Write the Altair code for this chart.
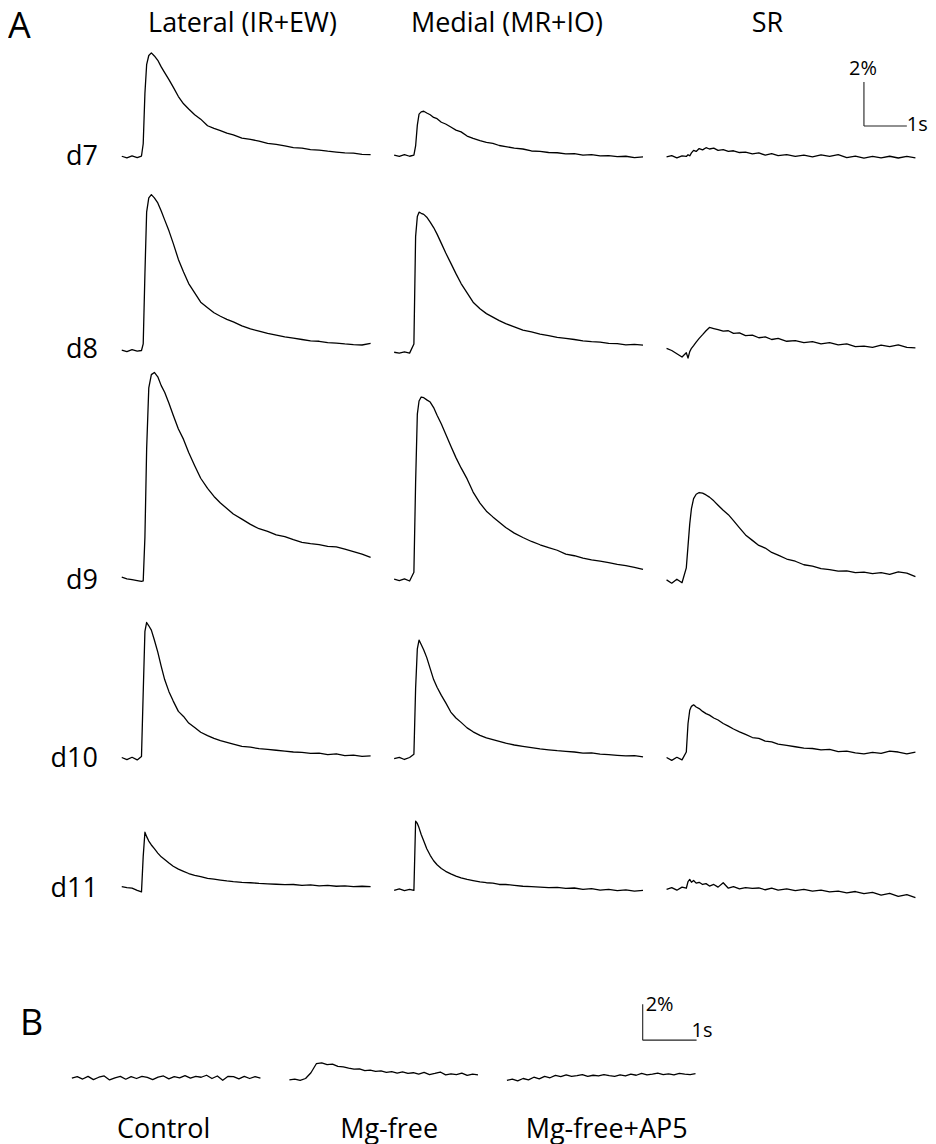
import altair as alt
import pandas as pd

# ---------------- data ----------------
# Panel A: common time grid (s from the start of each sweep)
TIME_A = [0.00, 0.12, 0.24, 0.36, 0.46, 0.50, 0.54, 0.58, 0.63, 0.69, 0.76, 0.84, 0.92, 1.00,
          1.10, 1.20, 1.32, 1.44, 1.56, 1.70, 1.84, 2.00, 2.15, 2.30, 2.45, 2.60, 2.80, 3.00,
          3.20, 3.40, 3.60, 3.80, 4.00, 4.20, 4.40, 4.60, 4.80, 5.00, 5.20, 5.40, 5.60, 5.80]

DAYS = ["d7", "d8", "d9", "d10", "d11"]
COLUMNS = ["Lateral (IR+EW)", "Medial (MR+IO)", "SR"]

LAT_D7 = [0.03, -0.04, 0.05, -0.03, 0.04, 0.6, 2.9, 4.2, 4.62, 4.74, 4.60, 4.40, 4.10, 3.84,
          3.52, 3.18, 2.75, 2.42, 2.18, 1.92, 1.72, 1.42, 1.30, 1.20, 1.08, 1.00, 0.86, 0.80,
          0.72, 0.62, 0.57, 0.50, 0.42, 0.40, 0.33, 0.31, 0.26, 0.22, 0.18, 0.17, 0.12, 0.10]
MED_D7 = [0.08, 0.02, 0.10, 0.03, 0.08, 0.5, 1.45, 1.95, 2.05, 2.08, 2.0, 1.92, 1.80, 1.74,
          1.58, 1.50, 1.36, 1.22, 1.14, 0.95, 0.84, 0.74, 0.66, 0.62, 0.52, 0.47, 0.40, 0.36,
          0.27, 0.25, 0.20, 0.19, 0.14, 0.15, 0.08, 0.10, 0.05, 0.06, 0.01, 0.03, -0.03, 0.0]
SR_D7 = [0.0, 0.06, -0.04, 0.05, 0.02, 0.10, 0.05, 0.18, 0.30, 0.25, 0.38, 0.32, 0.42, 0.36,
         0.40, 0.30, 0.33, 0.25, 0.28, 0.20, 0.22, 0.14, 0.18, 0.08, 0.15, 0.06, 0.10, 0.02,
         0.08, 0.0, 0.09, 0.02, 0.10, -0.03, 0.04, -0.06, 0.02, -0.04, 0.03, -0.05, 0.02, -0.04]

LAT_D8 = [0.02, -0.05, 0.04, -0.03, 0.0, 0.3, 3.5, 6.3, 6.95, 7.1, 6.95, 6.72, 6.35, 5.95,
          5.45, 4.88, 4.15, 3.58, 3.05, 2.62, 2.2, 1.95, 1.72, 1.56, 1.42, 1.30, 1.12, 0.98,
          0.88, 0.78, 0.70, 0.62, 0.56, 0.50, 0.44, 0.42, 0.36, 0.34, 0.30, 0.27, 0.25, 0.32]
MED_D8 = [-0.08, -0.12, -0.06, -0.12, 0.3, 5.2, 6.1, 6.3, 6.25, 6.2, 6.07, 5.85, 5.6, 5.30,
          4.88, 4.45, 3.98, 3.5, 3.05, 2.62, 2.2, 1.9, 1.68, 1.52, 1.36, 1.22, 1.08, 0.93,
          0.85, 0.75, 0.68, 0.60, 0.55, 0.50, 0.44, 0.40, 0.38, 0.32, 0.31, 0.26, 0.28, 0.24]
SR_D8 = [0.1, 0.0, -0.15, -0.3, -0.1, -0.35, -0.05, 0.1, 0.22, 0.38, 0.55, 0.72, 0.90, 1.05,
         1.0, 0.95, 0.88, 0.90, 0.78, 0.80, 0.68, 0.70, 0.58, 0.62, 0.50, 0.55, 0.42, 0.45,
         0.36, 0.40, 0.30, 0.36, 0.26, 0.30, 0.18, 0.20, 0.14, 0.24, 0.18, 0.26, 0.14, 0.12]

LAT_D9 = [0.18, 0.10, 0.06, 0.02, -0.02, 0.0, 2.0, 6.0, 8.8, 9.4, 9.5, 9.3, 8.9, 8.6,
          8.1, 7.55, 6.92, 6.45, 5.85, 5.25, 4.68, 4.22, 3.85, 3.55, 3.30, 3.05, 2.82, 2.58,
          2.38, 2.26, 2.10, 2.02, 1.88, 1.76, 1.70, 1.66, 1.58, 1.55, 1.45, 1.34, 1.22, 1.08]
MED_D9 = [0.08, 0.02, 0.1, 0.0, 0.4, 4.5, 7.6, 8.2, 8.38, 8.35, 8.25, 8.15, 7.9, 7.55,
          7.15, 6.7, 6.15, 5.62, 5.15, 4.65, 4.05, 3.55, 3.18, 2.92, 2.68, 2.44, 2.18, 1.98,
          1.80, 1.65, 1.52, 1.40, 1.22, 1.15, 1.04, 0.96, 0.90, 0.84, 0.76, 0.70, 0.62, 0.53]
SR_D9 = [0.05, -0.1, 0.08, -0.08, 0.6, 1.6, 2.6, 3.3, 3.75, 3.95, 4.03, 4.0, 3.92, 3.82,
         3.65, 3.45, 3.22, 3.02, 2.75, 2.42, 2.10, 1.85, 1.62, 1.50, 1.30, 1.18, 1.00, 0.90,
         0.74, 0.68, 0.56, 0.52, 0.45, 0.46, 0.38, 0.40, 0.34, 0.38, 0.30, 0.42, 0.36, 0.20]

LAT_D10 = [0.05, -0.05, 0.06, -0.06, 0.1, 3.0, 5.8, 6.2, 6.05, 5.85, 5.4, 4.85, 4.2, 3.6,
           3.05, 2.62, 2.15, 1.92, 1.62, 1.42, 1.20, 1.05, 0.92, 0.82, 0.74, 0.66, 0.56, 0.52,
           0.45, 0.42, 0.38, 0.34, 0.30, 0.28, 0.24, 0.25, 0.18, 0.22, 0.14, 0.16, 0.10, 0.12]
MED_D10 = [0.0, 0.06, -0.04, 0.05, 0.2, 3.2, 5.0, 5.4, 5.2, 4.95, 4.6, 4.1, 3.6, 3.25,
           2.88, 2.55, 2.12, 1.85, 1.65, 1.40, 1.22, 1.06, 0.94, 0.86, 0.78, 0.70, 0.62, 0.56,
           0.50, 0.44, 0.40, 0.36, 0.33, 0.30, 0.25, 0.26, 0.20, 0.18, 0.15, 0.12, 0.14, 0.08]
SR_D10 = [0.05, -0.08, 0.06, -0.06, 0.3, 1.6, 2.2, 2.38, 2.45, 2.35, 2.28, 2.15, 2.05, 1.98,
          1.85, 1.76, 1.60, 1.48, 1.35, 1.22, 1.10, 0.96, 0.92, 0.80, 0.76, 0.66, 0.60, 0.54,
          0.48, 0.46, 0.40, 0.42, 0.32, 0.34, 0.26, 0.22, 0.28, 0.24, 0.34, 0.30, 0.22, 0.30]

LAT_D11 = [0.12, 0.08, 0.05, -0.05, -0.12, 1.5, 2.6, 2.4, 2.2, 2.02, 1.85, 1.65, 1.48, 1.36,
           1.2, 1.05, 0.92, 0.82, 0.72, 0.64, 0.58, 0.5, 0.46, 0.42, 0.38, 0.35, 0.32, 0.30,
           0.27, 0.25, 0.23, 0.21, 0.22, 0.18, 0.2, 0.16, 0.18, 0.14, 0.16, 0.12, 0.14, 0.12]
MED_D11 = [-0.05, 0.02, -0.06, 0.0, -0.05, 3.1, 3.0, 2.8, 2.5, 2.2, 1.85, 1.55, 1.3, 1.12,
           0.95, 0.82, 0.70, 0.60, 0.52, 0.45, 0.40, 0.34, 0.30, 0.28, 0.22, 0.22, 0.18, 0.14,
           0.12, 0.10, 0.08, 0.09, 0.04, 0.06, 0.0, 0.03, -0.04, 0.0, -0.06, -0.03, -0.08, -0.05]
SR_D11 = [0.0, 0.08, -0.04, 0.1, 0.05, 0.35, 0.45, 0.32, 0.40, 0.28, 0.32, 0.22, 0.26, 0.15,
          0.22, 0.10, 0.30, 0.05, 0.12, 0.02, 0.08, 0.04, 0.06, -0.02, 0.05, -0.04, 0.02, -0.06,
          0.0, -0.08, -0.04, -0.12, -0.08, -0.16, -0.10, -0.2, -0.14, -0.26, -0.18, -0.32, -0.24, -0.38]

TRACES_A = [
    [LAT_D7, MED_D7, SR_D7],
    [LAT_D8, MED_D8, SR_D8],
    [LAT_D9, MED_D9, SR_D9],
    [LAT_D10, MED_D10, SR_D10],
    [LAT_D11, MED_D11, SR_D11],
]

# Panel B
TIME_B = [0.0, 0.1, 0.2, 0.3, 0.4, 0.5, 0.6, 0.7, 0.8, 0.9, 1.0, 1.1, 1.2, 1.3, 1.4, 1.5, 1.6, 1.7,
          1.8, 1.9, 2.0, 2.1, 2.2, 2.3, 2.4, 2.5, 2.6, 2.7, 2.8, 2.9, 3.0, 3.1, 3.2, 3.3, 3.4, 3.5]
CONDITIONS_B = ["Control", "Mg-free", "Mg-free+AP5"]
CONTROL = [0.0, 0.08, -0.05, 0.1, -0.08, 0.05, 0.12, -0.1, 0.02, 0.1, -0.06, 0.08, -0.02, 0.1,
           0.04, -0.08, 0.06, 0.12, -0.04, 0.08, 0.02, 0.14, 0.0, 0.1, 0.05, 0.16, -0.02, 0.12,
           -0.12, 0.1, 0.08, -0.04, 0.1, -0.02, 0.08, 0.0]
MG_FREE = [-0.1, -0.05, -0.12, -0.02, 0.3, 0.8, 0.85, 0.75, 0.78, 0.65, 0.62, 0.55, 0.5, 0.52,
           0.42, 0.45, 0.38, 0.4, 0.32, 0.36, 0.28, 0.35, 0.26, 0.3, 0.22, 0.32, 0.2, 0.26,
           0.34, 0.18, 0.24, 0.2, 0.28, 0.15, 0.22, 0.18]
MG_FREE_AP5 = [-0.12, -0.05, -0.15, -0.02, -0.1, 0.05, -0.04, 0.1, 0.02, 0.15, 0.08, 0.18, 0.1,
               0.14, 0.2, 0.1, 0.16, 0.12, 0.2, 0.14, 0.1, 0.18, 0.12, 0.22, 0.16, 0.26, 0.18,
               0.22, 0.28, 0.2, 0.24, 0.18, 0.26, 0.22, 0.2, 0.25]
TRACES_B = [CONTROL, MG_FREE, MG_FREE_AP5]

# scale bars (2 % / 1 s)
BAR_PCT = 2
BAR_SEC = 1

# ---------------- layout / style ----------------
FONT = "Open Sans"
PX_PER_S_A = 43.0
PX_PER_PCT_A = 22.0
PX_PER_S_B = 54.0
PX_PER_PCT_B = 18.0

LEFT_PAD_S = 50 / PX_PER_S_A
X_DOMS_A = [[-LEFT_PAD_S, 6.0], [0.0, 6.0], [0.0, 6.0]]
Y_DOMS_A = [(-0.773, 6.682), (-0.591, 8.045), (-0.682, 9.909), (-1.682, 7.409), (-0.955, 4.273)]
TITLE_X = [171, 113, 101]
ROW_LABEL_X = 26
LEFT_EDGE_X = -64
BAR_A_T0, BAR_A_V0 = 4.6, 1.41

X_DOM_B = [0.0, 200 / PX_PER_S_B]
Y_DOM_B = (-3.7, 4.889)
LABEL_B_X = [92, 100, 100]
LABEL_B_Y = 148
BAR_B_T0, BAR_B_V0 = 2.52, 2.11

LINE_W = 1.3


def xs(xdom):
    return alt.Scale(domain=list(xdom), nice=False, zero=False)


def ys(ydom):
    return alt.Scale(domain=list(ydom), nice=False, zero=False)


def X(field, xdom):
    return alt.X(f"{field}:Q", scale=xs(xdom), axis=None)


def Y(field, ydom):
    return alt.Y(f"{field}:Q", scale=ys(ydom), axis=None)


def one_row():
    return pd.DataFrame({"k": [0]})


def px_text(text, x, y, size, align="left", baseline="alphabetic", opacity=1.0):
    return alt.Chart(one_row()).mark_text(
        text=text, font=FONT, fontSize=size, align=align, baseline=baseline, color="black",
        opacity=opacity
    ).encode(x=alt.value(x), y=alt.value(y))


def scale_bar(t0, v0, xdom, ydom, which):
    df = pd.DataFrame({"t": [t0], "t2": [t0 + BAR_SEC], "v": [v0], "v2": [v0 + BAR_PCT]})
    vert = alt.Chart(df).mark_rule(color="#222", strokeWidth=1.1).encode(
        x=X("t", xdom), y=Y("v", ydom), y2=alt.Y2("v2"))
    horiz = alt.Chart(df).mark_rule(color="#222", strokeWidth=1.1).encode(
        x=X("t", xdom), x2=alt.X2("t2"), y=Y("v", ydom))
    if which == "A":
        pct = alt.Chart(df).mark_text(text="2%", font=FONT, fontSize=20, align="center",
                                      baseline="alphabetic", dx=-1, dy=-7).encode(
            x=X("t", xdom), y=Y("v2", ydom))
        sec = alt.Chart(df).mark_text(text="1s", font=FONT, fontSize=20, align="left",
                                      baseline="middle", dx=0, dy=-1).encode(
            x=X("t2", xdom), y=Y("v", ydom))
    else:
        pct = alt.Chart(df).mark_text(text="2%", font=FONT, fontSize=20, align="left",
                                      baseline="alphabetic", dx=3, dy=7).encode(
            x=X("t", xdom), y=Y("v2", ydom))
        sec = alt.Chart(df).mark_text(text="1s", font=FONT, fontSize=20, align="left",
                                      baseline="alphabetic", dx=-5, dy=-3).encode(
            x=X("t2", xdom), y=Y("v", ydom))
    return [vert, horiz, pct, sec]


def trace(times, vals, xdom, ydom):
    assert len(vals) == len(times)
    df = pd.DataFrame({"t": times, "v": vals})
    return alt.Chart(df).mark_line(color="black", strokeWidth=LINE_W, strokeJoin="round").encode(
        x=X("t", xdom), y=Y("v", ydom))


# ---------------- panel A ----------------
rows = []
for i, day in enumerate(DAYS):
    ydom = Y_DOMS_A[i]
    h = round((ydom[1] - ydom[0]) * PX_PER_PCT_A)
    cells = []
    for j in range(3):
        xdom = X_DOMS_A[j]
        w = round((xdom[1] - xdom[0]) * PX_PER_S_A)
        layers = [trace(TIME_A, TRACES_A[i][j], xdom, ydom)]
        if j == 0:
            lab = alt.Chart(pd.DataFrame({"v": [0.0]})).mark_text(
                text=day, font=FONT, fontSize=27, align="right", baseline="middle", color="black"
            ).encode(x=alt.value(ROW_LABEL_X), y=Y("v", ydom))
            layers.append(lab)
            if i == 0:
                layers.append(px_text("A", LEFT_EDGE_X, 0, 36, align="left", baseline="top"))
            else:
                # invisible anchor so that every row has the same left extent
                layers.append(px_text("A", LEFT_EDGE_X, h / 2, 20, align="left",
                                      baseline="middle", opacity=0))
        if i == 0:
            layers.append(px_text(COLUMNS[j], TITLE_X[j], 14, 27, align="center", baseline="middle"))
            if j == 2:
                layers += scale_bar(BAR_A_T0, BAR_A_V0, xdom, ydom, "A")
        cells.append(alt.layer(*layers).properties(width=w, height=h))
    rows.append(alt.hconcat(*cells, spacing=15, bounds="flush"))

block_a = alt.vconcat(*rows, spacing=0)

# ---------------- panel B ----------------
hb = round((Y_DOM_B[1] - Y_DOM_B[0]) * PX_PER_PCT_B)
wb = round((X_DOM_B[1] - X_DOM_B[0]) * PX_PER_S_B)
cells_b = []
for j, cond in enumerate(CONDITIONS_B):
    layers = [trace(TIME_B, TRACES_B[j], X_DOM_B, Y_DOM_B)]
    layers.append(px_text(cond, LABEL_B_X[j], LABEL_B_Y, 27, align="center", baseline="alphabetic"))
    if j == 0:
        layers.append(px_text("B", -52, 45, 36, align="left", baseline="alphabetic"))
        layers.append(px_text("A", LEFT_EDGE_X, hb / 2, 20, align="left",
                              baseline="middle", opacity=0))
    if j == 2:
        layers += scale_bar(BAR_B_T0, BAR_B_V0, X_DOM_B, Y_DOM_B, "B")
    cells_b.append(alt.layer(*layers).properties(width=wb, height=hb))
row_b = alt.hconcat(*cells_b, spacing=18, bounds="flush")

chart = alt.vconcat(block_a, row_b, spacing=80).properties(
    padding={"left": 0, "top": 0, "right": 0, "bottom": 0}
).configure_view(stroke=None)

chart.save("out.html", embed_options={"renderer": "svg", "actions": False})
